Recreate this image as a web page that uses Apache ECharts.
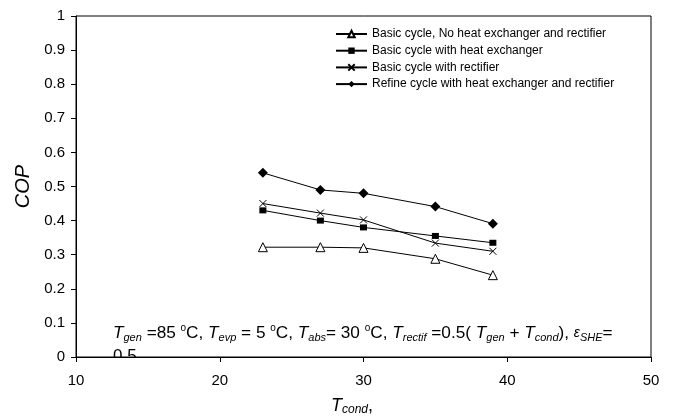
<!doctype html>
<html>
<head>
<meta charset="utf-8">
<title>COP vs Tcond</title>
<script src="https://cdn.jsdelivr.net/npm/echarts@6/dist/echarts.min.js"></script>
<style>html,body,#app{margin:0;width:676px;height:418px;background:#fff}</style>
</head>
<body>
<div id="app"></div>
<script>
// 数据：冷凝温度与四种循环的 COP
const tCond = [23, 27, 30, 35, 39];
const copBasic = [0.322, 0.322, 0.32, 0.288, 0.24];
const copHeatEx = [0.43, 0.40, 0.38, 0.355, 0.335];
const copRectif = [0.45, 0.422, 0.402, 0.334, 0.31];
const copRefine = [0.54, 0.49, 0.48, 0.441, 0.391];
const seriesNames = [
  "Basic cycle, No heat exchanger and rectifier",
  "Basic cycle with heat exchanger",
  "Basic cycle with rectifier",
  "Refine cycle with heat exchanger and rectifier",
];
const xTicks = [10, 20, 30, 40, 50];

const font = '"Liberation Sans", Arial, sans-serif';
const pairs = (ys) => tCond.map((x, i) => [x, ys[i]]); // 组合坐标

const el = document.getElementById("app");
const chart = echarts.init(el, null, { renderer: "canvas" });

const lineSeries = (name, ys, symbol, size, itemStyle) => ({
  name: name,
  type: "line",
  data: pairs(ys),
  symbol: symbol,
  symbolSize: size,
  showSymbol: true,
  lineStyle: { color: "#000", width: 1 },
  itemStyle: itemStyle,
  emphasis: { disabled: true },
  z: 3,
});

chart.setOption({
  animation: false,
  backgroundColor: "#fff",
  textStyle: { fontFamily: font, color: "#000" },
  grid: {
    left: 76, right: 25, top: 16, bottom: 61,
    show: true, borderColor: "#000", borderWidth: 1, backgroundColor: "transparent",
  },
  legend: {
    orient: "vertical",
    left: 335, top: 28, padding: 0,
    itemWidth: 31, itemHeight: 8, itemGap: 4.7,
    textStyle: { fontFamily: font, fontSize: 12, lineHeight: 12, color: "#000" },
    data: seriesNames,
  },
  xAxis: {
    type: "value",
    min: xTicks[0], max: xTicks[xTicks.length - 1], interval: 10,
    axisLine: { lineStyle: { color: "#000", width: 1 } },
    axisTick: { show: true, length: 5, lineStyle: { color: "#000" } },
    axisLabel: { color: "#000", fontSize: 15, margin: 16, fontFamily: font },
    splitLine: { show: false },
  },
  yAxis: {
    type: "value",
    min: 0, max: 1, interval: 0.1,
    name: "COP",
    nameLocation: "middle",
    nameGap: 40,
    nameRotate: 90,
    nameTextStyle: { fontSize: 20, fontStyle: "italic", color: "#000", fontFamily: font },
    axisLine: { show: true, lineStyle: { color: "#000", width: 1 } },
    axisTick: { show: true, length: 5, lineStyle: { color: "#000" } },
    axisLabel: { color: "#000", fontSize: 15, margin: 11, fontFamily: font },
    splitLine: { show: false },
  },
  graphic: [
    {
      type: "text", left: 113, top: 323, z: 10,
      style: {
        text: "{t|T}{s|gen} =85 {p|o}C, {t|T}{s|evp} = 5 {p|o}C, {t|T}{s|abs}= 30 {p|o}C, " +
          "{t|T}{s|rectif} =0.5( {t|T}{s|gen} + {t|T}{s|cond}), {e|ε}{s|SHE}=",
        fontFamily: font, fontSize: 17.2, lineHeight: 20, fill: "#000",
        rich: {
          t: { fontStyle: "italic", fontSize: 17.2, lineHeight: 20, fontFamily: font },
          s: { fontStyle: "italic", fontSize: 11, lineHeight: 4, verticalAlign: "bottom", fontFamily: font },
          p: { fontSize: 10, lineHeight: 8, verticalAlign: "top", fontFamily: font },
          e: { fontStyle: "italic", fontSize: 14, lineHeight: 20, fontFamily: font },
        },
      },
    },
    {
      type: "text", left: 113, top: 348, z: 1,
      style: { text: "0.5", fontFamily: font, fontSize: 17, fill: "#000" },
    },
    // 遮住被坐标轴截断的第二行下半部分
    { type: "rect", shape: { x: 105, y: 358, width: 50, height: 12 }, style: { fill: "#fff" }, z: 2 },
    {
      type: "text", left: 331, top: 396, z: 10,
      style: {
        text: "{t|T}{s|cond},",
        fontFamily: font, fontSize: 18, lineHeight: 20, fill: "#000",
        rich: {
          t: { fontStyle: "italic", fontSize: 18, lineHeight: 20, fontFamily: font },
          s: { fontStyle: "italic", fontSize: 12, lineHeight: 4, verticalAlign: "bottom", fontFamily: font },
        },
      },
    },
  ],
  series: [
    lineSeries(seriesNames[0], copBasic, "triangle", 9,
      { color: "#fff", borderColor: "#000", borderWidth: 1 }),
    lineSeries(seriesNames[1], copHeatEx, "rect", [7, 6],
      { color: "#000", borderColor: "#000", borderWidth: 0 }),
    lineSeries(seriesNames[2], copRectif, "path://M0,0L10,10M10,0L0,10", 7,
      { color: "none", borderColor: "#000", borderWidth: 1 }),
    lineSeries(seriesNames[3], copRefine, "diamond", 10,
      { color: "#000", borderColor: "#000", borderWidth: 0 }),
  ],
});
</script>
</body>
</html>
